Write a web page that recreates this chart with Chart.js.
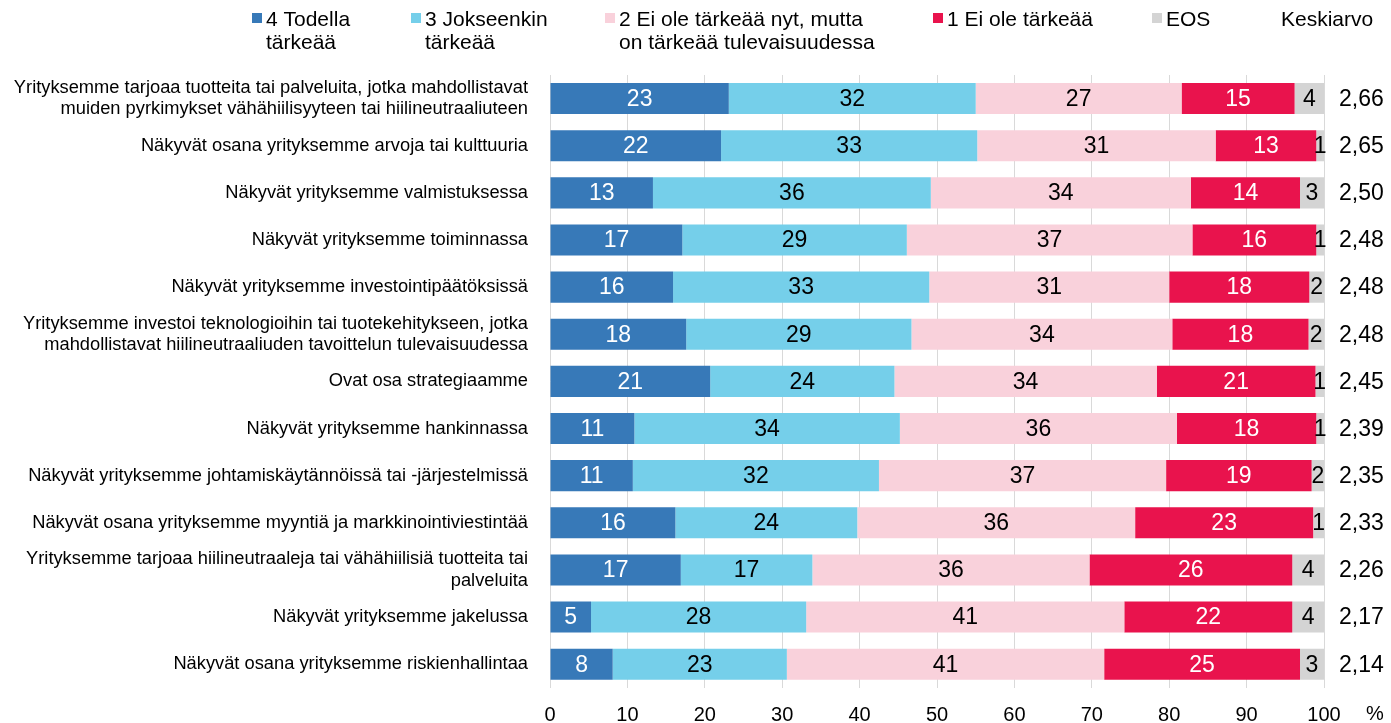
<!DOCTYPE html>
<html>
<head>
<meta charset="utf-8">
<script src="https://cdn.jsdelivr.net/npm/chart.js@4/dist/chart.umd.min.js"></script>
<style>
  html, body { margin: 0; padding: 0; background: #fff; overflow: hidden; }
  #wrap { position: relative; width: 1391px; height: 723px; overflow: hidden; }
  canvas { display: block; }
</style>
</head>
<body>
<!-- canvas is 8px taller than the view: Chart.js keeps ~8px under the x axis -->
<div id="wrap"><canvas id="chart" width="1391" height="731"></canvas></div>
<script>
const categories = [
  ["Yrityksemme tarjoaa tuotteita tai palveluita, jotka mahdollistavat", "muiden pyrkimykset vähähiilisyyteen tai hiilineutraaliuteen"],
  "Näkyvät osana yrityksemme arvoja tai kulttuuria",
  "Näkyvät yrityksemme valmistuksessa",
  "Näkyvät yrityksemme toiminnassa",
  "Näkyvät yrityksemme investointipäätöksissä",
  ["Yrityksemme investoi teknologioihin tai tuotekehitykseen, jotka", "mahdollistavat hiilineutraaliuden tavoittelun tulevaisuudessa"],
  "Ovat osa strategiaamme",
  "Näkyvät yrityksemme hankinnassa",
  "Näkyvät yrityksemme johtamiskäytännöissä tai -järjestelmissä",
  "Näkyvät osana yrityksemme myyntiä ja markkinointiviestintää",
  ["Yrityksemme tarjoaa hiilineutraaleja tai vähähiilisiä tuotteita tai", "palveluita"],
  "Näkyvät yrityksemme jakelussa",
  "Näkyvät osana yrityksemme riskienhallintaa"
];

const seriesNames = [
  ["4 Todella", "tärkeää"],
  ["3 Jokseenkin", "tärkeää"],
  ["2 Ei ole tärkeää nyt, mutta", "on tärkeää tulevaisuudessa"],
  ["1 Ei ole tärkeää"],
  ["EOS"]
];

// shares in % (labels show them rounded)
const todella    = [23.1, 22.1, 13.3, 17.1, 15.9, 17.6, 20.7, 10.9, 10.7, 16.2, 16.9, 5.3, 8.1];
const jokseenkin = [31.9, 33.1, 35.9, 29.0, 33.1, 29.1, 23.8, 34.3, 31.8, 23.5, 17.0, 27.8, 22.5];
const eiNyt      = [26.6, 30.8, 33.6, 36.9, 31.0, 33.7, 33.9, 35.8, 37.1, 35.9, 35.8, 41.1, 41.0];
const eiTarkea   = [14.6, 13.0, 14.1, 16.0, 18.1, 17.6, 20.5, 18.0, 18.8, 23.0, 26.2, 21.7, 25.3];
const eos        = [3.8, 1.0, 3.1, 1.0, 1.9, 2.0, 1.1, 1.0, 1.6, 1.4, 4.1, 4.1, 3.1];

const averages = ["2,66", "2,65", "2,50", "2,48", "2,48", "2,48", "2,45", "2,39", "2,35", "2,33", "2,26", "2,17", "2,14"];
const avgTitle = "Keskiarvo";
const xTicks = [0, 10, 20, 30, 40, 50, 60, 70, 80, 90, 100];

const colors = ["#3779B8", "#75CFEA", "#F9D1DB", "#E9134D", "#D4D4D4"];
const labelColors = ["#ffffff", "#000000", "#000000", "#ffffff", "#000000"];
const FONT = "'Liberation Sans', Arial, sans-serif";

const seriesData = [todella, jokseenkin, eiNyt, eiTarkea, eos];
const legendX = [252, 411, 605, 933, 1152];

// value labels, average column, % unit and legend
const barLabels = {
  id: 'barLabels',
  afterDatasetsDraw(chart) {
    const ctx = chart.ctx;
    ctx.save();
    ctx.font = "23px " + FONT;
    ctx.textAlign = 'center';
    ctx.textBaseline = 'middle';
    chart.data.datasets.forEach((ds, i) => {
      const meta = chart.getDatasetMeta(i);
      ctx.fillStyle = labelColors[i];
      meta.data.forEach((bar, j) => {
        const x = (bar.x + bar.base) / 2;
        ctx.fillText(String(Math.round(ds.data[j])), x, bar.y + 1);
      });
    });

    const yScale = chart.scales.y;
    ctx.textAlign = 'left';
    ctx.fillStyle = '#000';
    averages.forEach((a, j) => {
      ctx.fillText(a, 1339, yScale.getPixelForValue(j) + 1);
    });

    ctx.font = "20px " + FONT;
    ctx.fillText("%", 1366, 714);

    ctx.font = "21px " + FONT;
    ctx.textBaseline = 'alphabetic';
    seriesNames.forEach((lines, i) => {
      ctx.fillStyle = colors[i];
      ctx.fillRect(legendX[i], 13, 10, 10);
      ctx.fillStyle = '#000';
      lines.forEach((t, k) => ctx.fillText(t, legendX[i] + 14, 26 + k * 22.5));
    });
    ctx.fillText(avgTitle, 1281, 26);
    ctx.restore();
  }
};

new Chart(document.getElementById('chart'), {
  type: 'bar',
  data: {
    labels: categories,
    datasets: seriesData.map((d, i) => ({
      label: seriesNames[i].join(' '),
      data: d,
      backgroundColor: colors[i],
      borderWidth: 0,
      barPercentage: 0.66,
      categoryPercentage: 1
    }))
  },
  options: {
    indexAxis: 'y',
    responsive: false,
    animation: false,
    devicePixelRatio: 1,
    layout: { padding: { top: 75, right: 67, left: 0, bottom: 0 } },
    plugins: {
      legend: { display: false },
      tooltip: { enabled: false }
    },
    scales: {
      x: {
        stacked: true,
        min: 0,
        max: 100,
        afterBuildTicks: (scale) => { scale.ticks = xTicks.map(v => ({ value: v })); },
        grid: { color: '#D9D9D9', lineWidth: 1, drawTicks: false },
        border: { display: false },
        ticks: {
          color: '#000',
          padding: 16,
          maxRotation: 0,
          font: { size: 20, family: FONT }
        },
        afterFit: (scale) => { scale.height = 35; }
      },
      y: {
        stacked: true,
        grid: { display: false, drawTicks: false },
        border: { display: false },
        ticks: {
          color: '#000',
          padding: 22,
          font: { size: 18.3, family: FONT, lineHeight: 1.16 }
        },
        afterFit: (scale) => { scale.width = 550; }
      }
    }
  },
  plugins: [barLabels]
});
</script>
</body>
</html>
